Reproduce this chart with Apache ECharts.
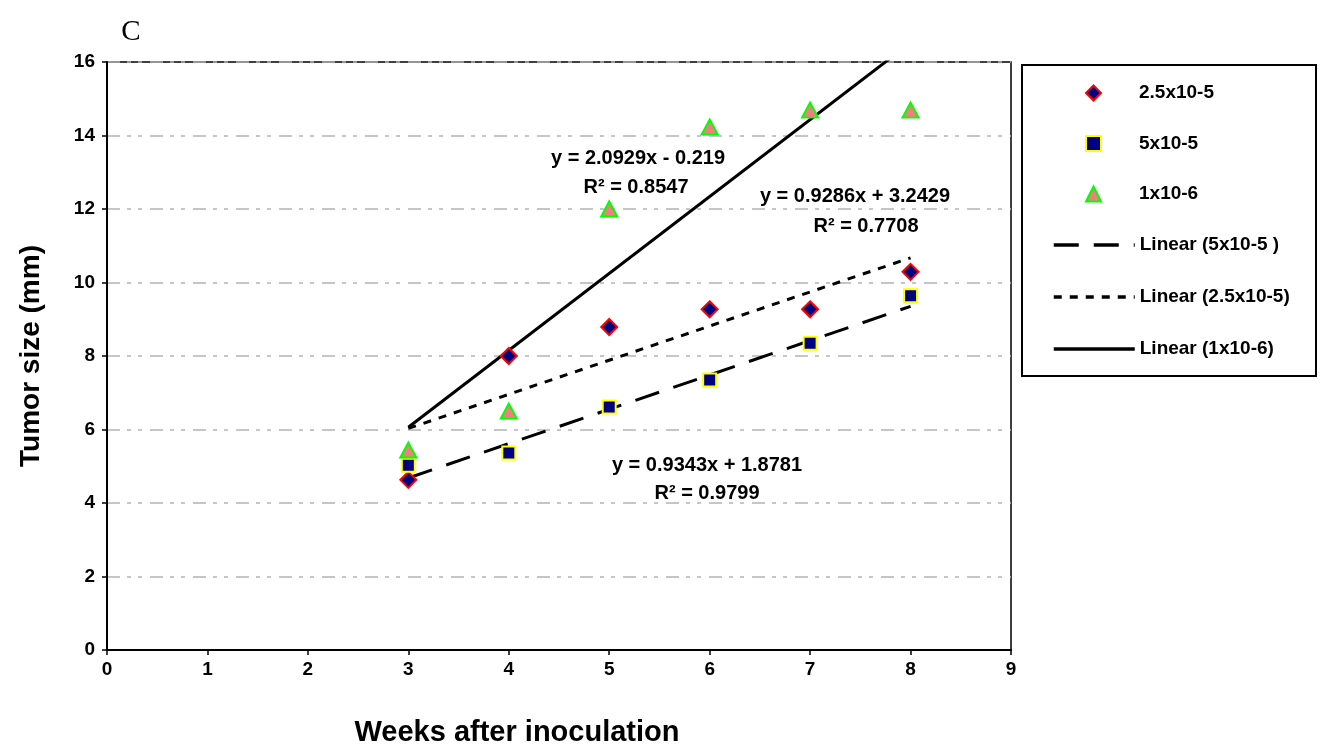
<!DOCTYPE html>
<html>
<head>
<meta charset="utf-8">
<script src="https://cdn.jsdelivr.net/npm/echarts@6/dist/echarts.min.js"></script>
<style>
  html, body { margin: 0; padding: 0; background: #fff; }
  #chart { width: 1325px; height: 747px; }
</style>
</head>
<body>
<div id="chart"></div>
<script>
// weeks after inoculation
var weeks = [3, 4, 5, 6, 7, 8];
// tumor size (mm) per dose
var dose25 = [4.63, 8.0, 8.79, 9.27, 9.27, 10.29];   // 2.5x10-5
var dose5 = [5.03, 5.36, 6.61, 7.35, 8.35, 9.64];    // 5x10-5
var dose1 = [5.44, 6.5, 12.0, 14.23, 14.69, 14.69];  // 1x10-6

// trendline coefficients as printed on the chart
var trendNames = ['Linear (5x10-5 )', 'Linear (2.5x10-5)', 'Linear (1x10-6)'];
var trendSlope = [0.9343, 0.9286, 2.0929];
var trendIntercept = [1.8781, 3.2429, -0.219];
var trendR2 = ['0.9799', '0.7708', '0.8547'];
var trendStart = 3, trendEnd = 8;

var yTicks = [0, 16, 2];
var xTicks = [0, 9, 1];

var FONT = '"Liberation Sans", Arial, sans-serif';

function trendData(i) {
    return [
        [trendStart, trendSlope[i] * trendStart + trendIntercept[i]],
        [trendEnd, trendSlope[i] * trendEnd + trendIntercept[i]]
    ];
}

function pts(arr) {
    var out = [];
    for (var i = 0; i < weeks.length; i++) out.push([weeks[i], arr[i]]);
    return out;
}

function eqText(i) {
    var b = trendIntercept[i];
    return 'y = ' + trendSlope[i] + 'x ' + (b < 0 ? '- ' : '+ ') + Math.abs(b);
}

var myChart = echarts.init(document.getElementById('chart'));
var option = {
    backgroundColor: '#fff',
    animation: false,
    grid: {
        left: 107, right: 314, top: 62, bottom: 97,
        containLabel: false, outerBoundsMode: 'none',
        show: true, borderColor: '#000', borderWidth: 1.5, backgroundColor: 'transparent'
    },
    xAxis: {
        type: 'value',
        min: xTicks[0], max: xTicks[1], interval: xTicks[2],
        name: 'Weeks after inoculation',
        nameLocation: 'middle',
        nameGap: 68,
        nameTextStyle: { fontFamily: FONT, fontWeight: 'bold', fontSize: 29, color: '#000', padding: [0, 84, 0, 0] },
        axisLine: { lineStyle: { color: '#000', width: 2 } },
        axisTick: { show: true, length: 5, lineStyle: { color: '#000', width: 1.5 } },
        axisLabel: { fontFamily: FONT, fontWeight: 'bold', fontSize: 19, color: '#000', margin: 10 },
        splitLine: { show: false }
    },
    yAxis: {
        type: 'value',
        min: yTicks[0], max: yTicks[1], interval: yTicks[2],
        name: 'Tumor size (mm)',
        nameLocation: 'middle',
        nameGap: 62,
        nameTextStyle: { fontFamily: FONT, fontWeight: 'bold', fontSize: 28, color: '#000' },
        axisLine: { lineStyle: { color: '#000', width: 2 } },
        axisTick: { show: true, length: 5, lineStyle: { color: '#000', width: 1.5 } },
        axisLabel: { fontFamily: FONT, fontWeight: 'bold', fontSize: 19, color: '#000', margin: 12 },
        splitLine: { lineStyle: { color: '#b4b4b4', width: 1.5, type: [13, 7, 4, 7, 4, 8] } }
    },
    legend: [
        {
            orient: 'vertical', left: 1080, top: 78,
            itemWidth: 15, itemHeight: 15, itemGap: 30.5,
            data: ['2.5x10-5', '5x10-5', '1x10-6'],
            textStyle: { fontFamily: FONT, fontWeight: 'bold', fontSize: 19, lineHeight: 20, color: '#000', padding: [0, 0, 0, 33] }
        },
        {
            orient: 'vertical', left: 1047, top: 230,
            itemWidth: 81, itemHeight: 14, itemGap: 32,
            data: trendNames,
            itemStyle: { color: 'transparent', borderWidth: 0, opacity: 0 },
            lineStyle: { width: 3.5 },
            textStyle: { fontFamily: FONT, fontWeight: 'bold', fontSize: 19, lineHeight: 20, color: '#000' }
        }
    ],
    series: [
        {
            name: '2.5x10-5', type: 'scatter', data: pts(dose25), z: 5,
            symbol: 'diamond', symbolSize: 16,
            itemStyle: { color: '#000080', borderColor: '#ff0000', borderWidth: 2, opacity: 1 }
        },
        {
            name: '5x10-5', type: 'scatter', data: pts(dose5), z: 5,
            symbol: 'rect', symbolSize: 13,
            itemStyle: { color: '#000080', borderColor: '#ffff00', borderWidth: 2, opacity: 1 }
        },
        {
            name: '1x10-6', type: 'scatter', data: pts(dose1), z: 5,
            symbol: 'triangle', symbolSize: [16, 15],
            itemStyle: { color: '#f08080', borderColor: '#00ff00', borderWidth: 2, opacity: 1 }
        },
        {
            name: trendNames[0], type: 'line', data: trendData(0), symbol: 'none', clip: true, z: 3,
            lineStyle: { color: '#000', width: 3, type: [25, 15] }, itemStyle: { color: '#000' }
        },
        {
            name: trendNames[1], type: 'line', data: trendData(1), symbol: 'none', clip: true, z: 3,
            lineStyle: { color: '#000', width: 3, type: [8, 8] }, itemStyle: { color: '#000' }
        },
        {
            name: trendNames[2], type: 'line', data: trendData(2), symbol: 'none', clip: true, z: 3,
            lineStyle: { color: '#000', width: 3 }, itemStyle: { color: '#000' }
        }
    ],
    graphic: [
        { type: 'rect', shape: { x: 1022, y: 65, width: 294, height: 311 },
          style: { fill: 'transparent', stroke: '#000', lineWidth: 2 } },
        { type: 'text', style: { text: 'C', x: 131, y: 32, align: 'center', verticalAlign: 'middle',
          font: '29px "Liberation Serif", "Times New Roman", serif', fill: '#000' } },
        { type: 'text', z: 10, style: { text: eqText(2), x: 638, y: 158, align: 'center', verticalAlign: 'middle',
          font: 'bold 20px ' + FONT, fill: '#000' } },
        { type: 'text', z: 10, style: { text: 'R\u00b2 = ' + trendR2[2], x: 636, y: 187, align: 'center', verticalAlign: 'middle',
          font: 'bold 20px ' + FONT, fill: '#000' } },
        { type: 'text', z: 10, style: { text: eqText(1), x: 855, y: 196, align: 'center', verticalAlign: 'middle',
          font: 'bold 20px ' + FONT, fill: '#000' } },
        { type: 'text', z: 10, style: { text: 'R\u00b2 = ' + trendR2[1], x: 866, y: 226, align: 'center', verticalAlign: 'middle',
          font: 'bold 20px ' + FONT, fill: '#000' } },
        { type: 'text', z: 10, style: { text: eqText(0), x: 707, y: 465, align: 'center', verticalAlign: 'middle',
          font: 'bold 20px ' + FONT, fill: '#000' } },
        { type: 'text', z: 10, style: { text: 'R\u00b2 = ' + trendR2[0], x: 707, y: 493, align: 'center', verticalAlign: 'middle',
          font: 'bold 20px ' + FONT, fill: '#000' } }
    ]
};
myChart.setOption(option, true);
</script>
</body>
</html>
